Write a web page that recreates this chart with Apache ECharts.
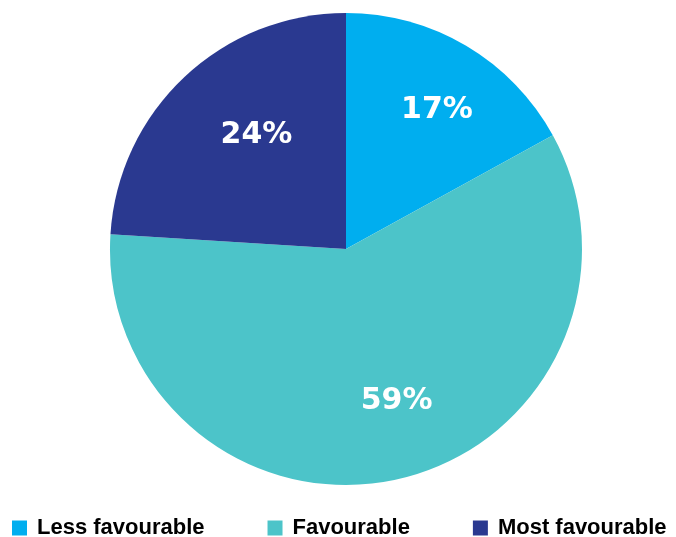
<!DOCTYPE html>
<html>
<head>
<meta charset="utf-8">
<script src="https://cdn.jsdelivr.net/npm/echarts@6/dist/echarts.min.js"></script>
<style>html,body{margin:0;padding:0;background:#fff;}#c{width:676px;height:537px;}</style>
</head>
<body>
<div id="c"></div>
<script>
const categories = ['Less favourable', 'Favourable', 'Most favourable'];
const values = [17, 59, 24];
const colors = ['#00AEEF', '#4CC4C9', '#2A3990'];
const labelOffsets = [[8, 2], [15, -7], [22, 5]];

const chart = echarts.init(document.getElementById('c'), null, {renderer: 'canvas'});
const mainData = categories.map((n, i) => ({name: n, value: values[i], itemStyle: {color: colors[i]}}));
const labelData = categories.map((n, i) => ({name: n, value: values[i], label: {offset: labelOffsets[i]}}));
chart.setOption({
  animation: false,
  legend: {
    top: 517,
    left: 12,
    padding: 0,
    itemWidth: 15,
    itemHeight: 15,
    itemGap: 63,
    icon: 'rect',
    textStyle: {fontFamily: 'Liberation Sans', fontWeight: 'bold', fontSize: 22, color: '#000', padding: [0, 0, 0, 5]},
    data: categories
  },
  series: [
    {
      type: 'pie',
      center: [346, 249],
      radius: [0, 236],
      startAngle: 90,
      clockwise: true,
      label: {show: false},
      labelLine: {show: false},
      itemStyle: {borderWidth: 0},
      emphasis: {disabled: true},
      data: mainData
    },
    {
      type: 'pie',
      center: [346, 249],
      radius: [100, 220],
      startAngle: 90,
      clockwise: true,
      silent: true,
      itemStyle: {color: 'rgba(0,0,0,0)'},
      label: {
        show: true,
        position: 'inside',
        formatter: '{c}%',
        color: '#fff',
        fontFamily: 'DejaVu Sans',
        fontWeight: 'bold',
        fontSize: 30
      },
      labelLine: {show: false},
      emphasis: {disabled: true},
      data: labelData
    }
  ]
});
</script>
</body>
</html>
